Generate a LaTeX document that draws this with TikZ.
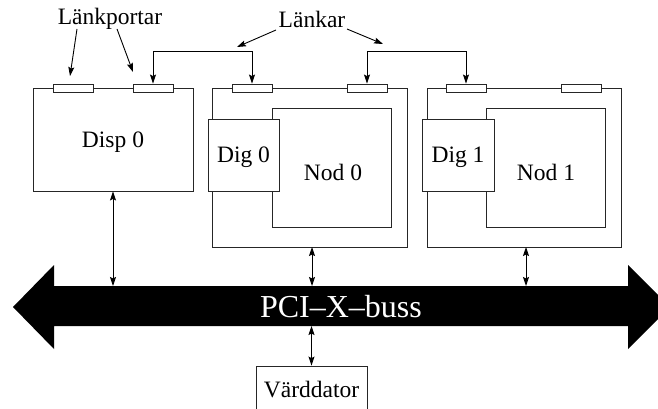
\documentclass[tikz,border=0pt]{standalone}
\usepackage{fontspec}
\setmainfont{Liberation Serif}
\usetikzlibrary{arrows.meta}
\begin{document}
\begin{tikzpicture}[x=1pt,y=-1pt,
  line width=0.9pt,
  box/.style={draw=black!85,fill=white,inner sep=0pt,line width=0.9pt},
  port/.style={box,minimum width=40pt,minimum height=8pt},
  lbl/.style={font=\fontsize{23.5}{28}\selectfont,inner sep=0pt},
  tip/.style={-{Stealth[length=9pt,width=6pt,inset=1.5pt]}},
  dtip/.style={{Stealth[length=9pt,width=6pt,inset=1.5pt]}-{Stealth[length=9pt,width=6pt,inset=1.5pt]}}
]
\useasboundingbox (0,0) rectangle (658,409);
% bus
\fill[black] (13,307) -- (54,265) -- (54,286) -- (628,286) -- (628,265) -- (670,307)
  -- (628,349) -- (628,326) -- (54,326) -- (54,349) -- cycle;
\node[lbl,text=white,font=\fontsize{32}{36}\selectfont] (bus) at (341,307) {PCI\textendash X\textendash buss};
\coordinate (bustop) at (341,286);
\coordinate (busbot) at (341,326);
% Disp 0
\node[box,minimum width=160pt,minimum height=103pt] (disp) at (113,139.5) {};
\node[lbl] (disptxt) at (113,142) {Disp 0};
% node 0
\node[box,minimum width=195pt,minimum height=159pt] (n0) at (309.5,167.5) {};
\node[box,minimum width=119pt,minimum height=119pt] (nod0) at (331.5,167.5) {};
\node[lbl] (nod0txt) at (333,172) {Nod 0};
\node[box,minimum width=71pt,minimum height=72pt] (dig0) at (243.5,155) {};
\node[lbl] (dig0txt) at (243.5,157) {Dig 0};
% node 1
\node[box,minimum width=194pt,minimum height=159pt] (n1) at (524,167.5) {};
\node[box,minimum width=119pt,minimum height=119pt] (nod1) at (545.5,167.5) {};
\node[lbl] (nod1txt) at (546,172) {Nod 1};
\node[box,minimum width=72pt,minimum height=72pt] (dig1) at (458,155) {};
\node[lbl] (dig1txt) at (458,157) {Dig 1};
% ports
\node[port] (p1) at (73,88) {};
\node[port] (p2) at (153,88) {};
\node[port] (p3) at (252,88) {};
\node[port] (p4) at (367,88) {};
\node[port] (p5) at (466,88) {};
\node[port] (p6) at (581,88) {};
% links
\draw[dtip] (p2.north) -- ++(0,-32) -| (p3.north);
\draw[dtip] (p4.north) -- ++(0,-32) -| (p5.north);
% labels
\node[lbl] (lp) at (110,19) {Länkportar};
\node[lbl] (lk) at (312,19) {Länkar};
\coordinate (lp1) at (77,29);
\coordinate (lp2) at (117,29);
\coordinate (lk1) at (276,30);
\coordinate (lk2) at (347,29);
\coordinate (t1) at (70,76);
\coordinate (t2) at (133,72);
\coordinate (t3) at (237,47);
\coordinate (t4) at (383,44);
\draw[tip] (lp1) -- (t1);
\draw[tip] (lp2) -- (t2);
\draw[tip] (lk1) -- (t3);
\draw[tip] (lk2) -- (t4);
% host
\node[box,minimum width=111pt,minimum height=50pt] (host) at (311.5,391) {};
\node[lbl] (hosttxt) at (311.5,390) {Värddator};
% bus connections
\coordinate (n0b) at (312,247);
\coordinate (n1b) at (526,247);
\draw[dtip] (disp.south) -- (disp.south |- bustop);
\draw[dtip] (n0b) -- (n0b |- bustop);
\draw[dtip] (n1b) -- (n1b |- bustop);
\draw[dtip] (host.north) -- (host.north |- busbot);
\end{tikzpicture}
\end{document}
